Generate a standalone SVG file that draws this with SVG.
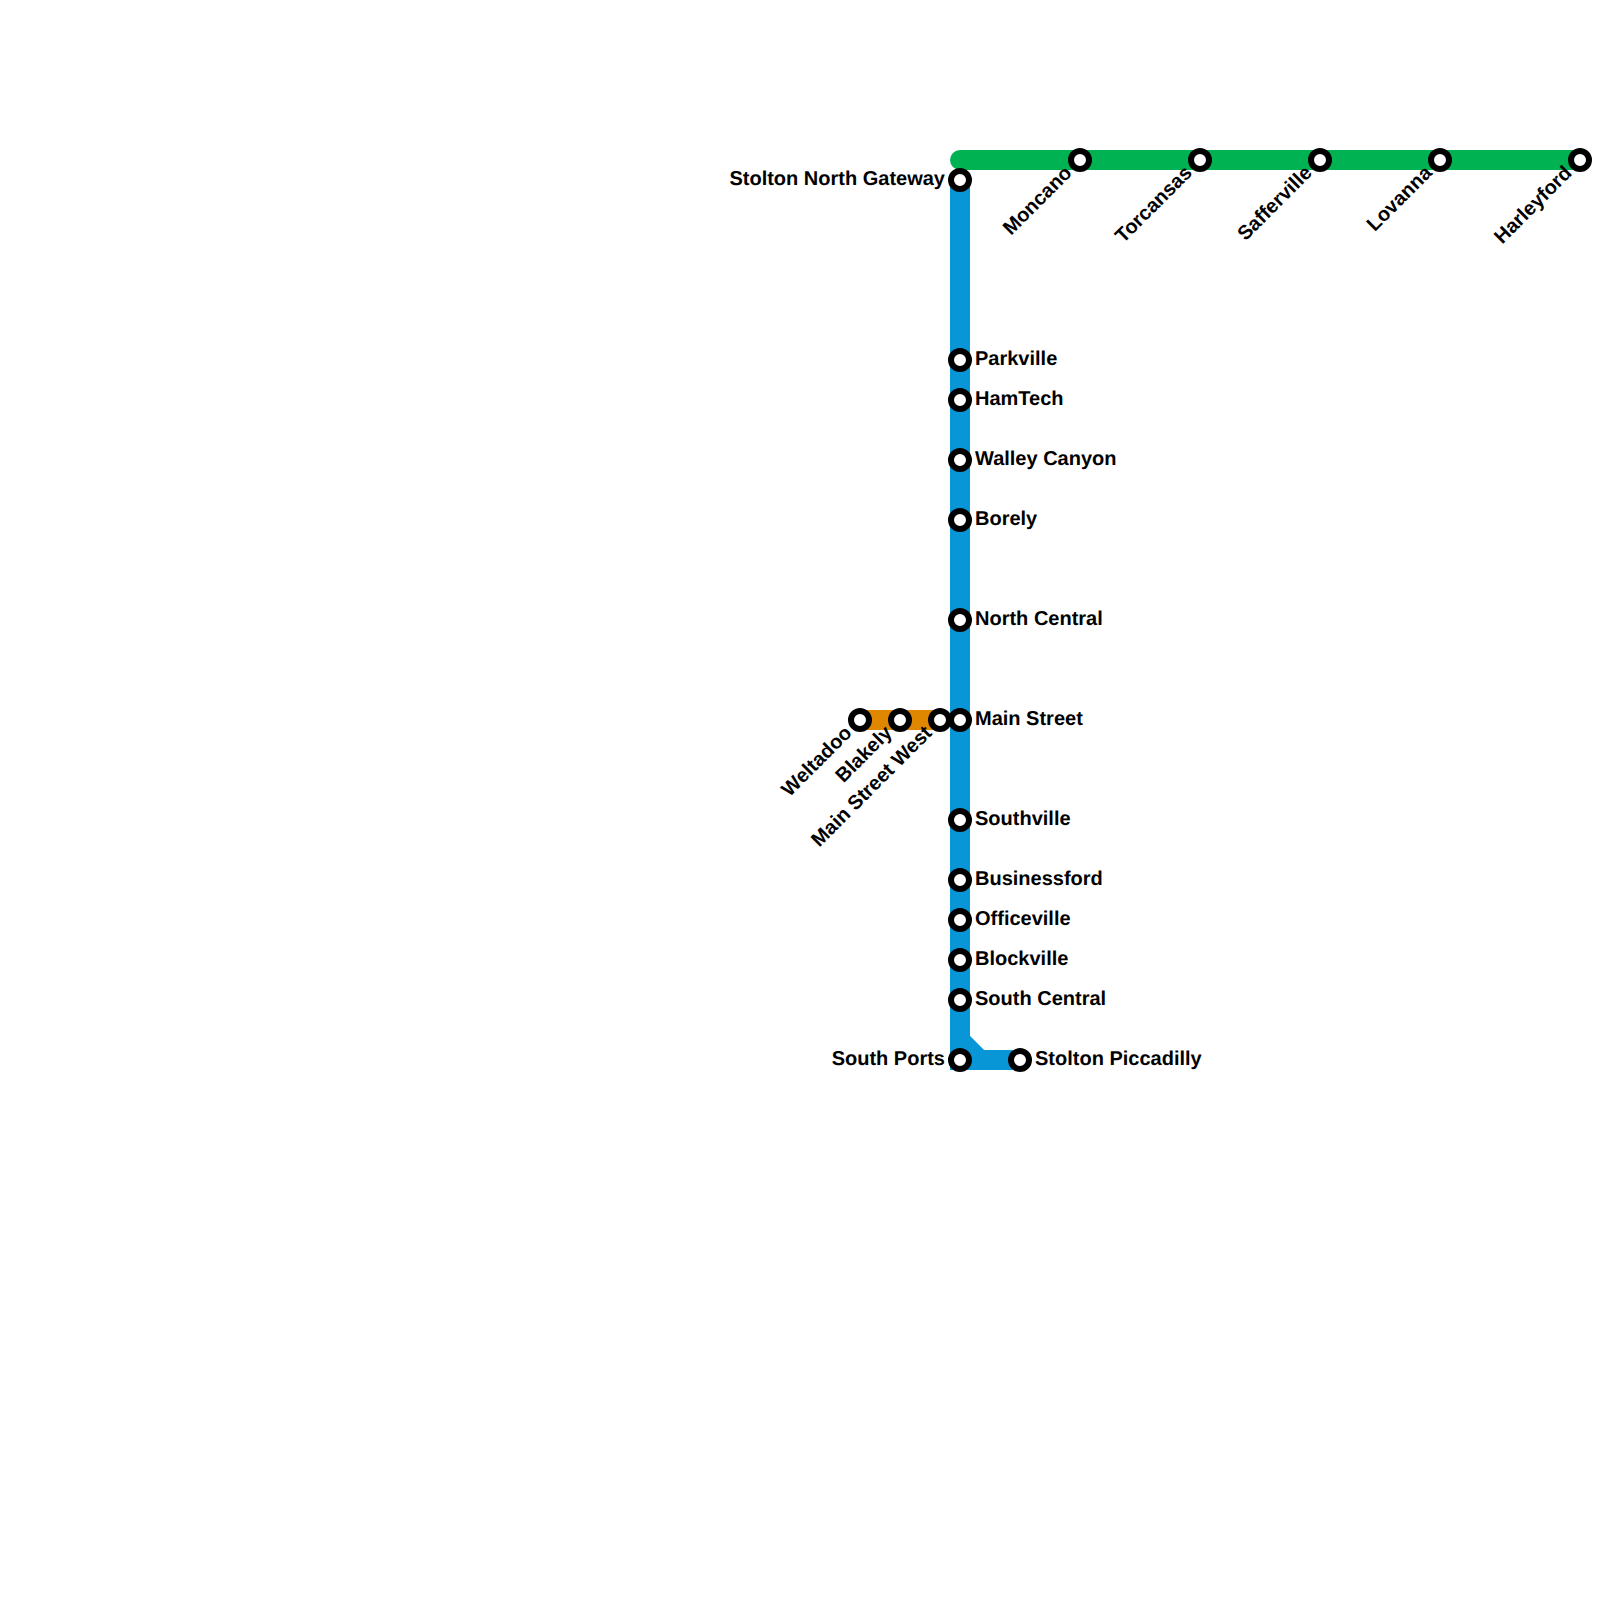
<svg xmlns="http://www.w3.org/2000/svg" width="1600" height="1600" viewBox="0 0 1600 1600">
<style>
.line{fill:none;stroke-width:20;stroke-linejoin:miter;stroke-linecap:butt}
.st circle{fill:#fff;stroke:#000;stroke-width:6}
text{font-family:"Liberation Sans",Arial,sans-serif;font-weight:bold;font-size:20px;fill:#000;text-rendering:geometricPrecision}
.e{text-anchor:end}
</style>
<rect width="1600" height="1600" fill="#fff"/>
<g id="connectors">
<path class="line" d="M860 720H940" stroke="#e08700"/>
<path class="line" d="M960 160H1580" stroke="#00b251"/>
<circle cx="960" cy="160" r="10" fill="#00b251"/>
<path class="line" d="M960 180V1040L980 1060H1020" stroke="#0896d7"/>
<path class="line" d="M960 1040V1060H980" stroke="#0896d7"/>
</g>
<g class="st">
<g id="stolton-north-gateway"><circle cx="960" cy="180" r="9"/><text class="e" x="945" y="185">Stolton North Gateway</text></g>
<g id="parkville"><circle cx="960" cy="360" r="9"/><text x="975" y="365">Parkville</text></g>
<g id="hamtech"><circle cx="960" cy="400" r="9"/><text x="975" y="405">HamTech</text></g>
<g id="walley-canyon"><circle cx="960" cy="460" r="9"/><text x="975" y="465">Walley Canyon</text></g>
<g id="borely"><circle cx="960" cy="520" r="9"/><text x="975" y="525">Borely</text></g>
<g id="north-central"><circle cx="960" cy="620" r="9"/><text x="975" y="625">North Central</text></g>
<g id="main-street"><circle cx="960" cy="720" r="9"/><text x="975" y="725">Main Street</text></g>
<g id="southville"><circle cx="960" cy="820" r="9"/><text x="975" y="825">Southville</text></g>
<g id="businessford"><circle cx="960" cy="880" r="9"/><text x="975" y="885">Businessford</text></g>
<g id="officeville"><circle cx="960" cy="920" r="9"/><text x="975" y="925">Officeville</text></g>
<g id="blockville"><circle cx="960" cy="960" r="9"/><text x="975" y="965">Blockville</text></g>
<g id="south-central"><circle cx="960" cy="1000" r="9"/><text x="975" y="1005">South Central</text></g>
<g id="south-ports"><circle cx="960" cy="1060" r="9"/><text class="e" x="945" y="1065">South Ports</text></g>
<g id="stolton-piccadilly"><circle cx="1020" cy="1060" r="9"/><text x="1035" y="1065">Stolton Piccadilly</text></g>
<g id="weltadoo"><circle cx="860" cy="720" r="9"/><text class="e" transform="translate(853 734) rotate(-45)">Weltadoo</text></g>
<g id="blakely"><circle cx="900" cy="720" r="9"/><text class="e" transform="translate(893 734) rotate(-45)">Blakely</text></g>
<g id="main-street-west"><circle cx="940" cy="720" r="9"/><text class="e" transform="translate(933 734) rotate(-45)">Main Street West</text></g>
<g id="moncano"><circle cx="1080" cy="160" r="9"/><text class="e" transform="translate(1073 174) rotate(-45)">Moncano</text></g>
<g id="torcansas"><circle cx="1200" cy="160" r="9"/><text class="e" transform="translate(1193 174) rotate(-45)">Torcansas</text></g>
<g id="safferville"><circle cx="1320" cy="160" r="9"/><text class="e" transform="translate(1313 174) rotate(-45)">Safferville</text></g>
<g id="lovanna"><circle cx="1440" cy="160" r="9"/><text class="e" transform="translate(1433 174) rotate(-45)">Lovanna</text></g>
<g id="harleyford"><circle cx="1580" cy="160" r="9"/><text class="e" transform="translate(1573 174) rotate(-45)">Harleyford</text></g>
</g>
</svg>
